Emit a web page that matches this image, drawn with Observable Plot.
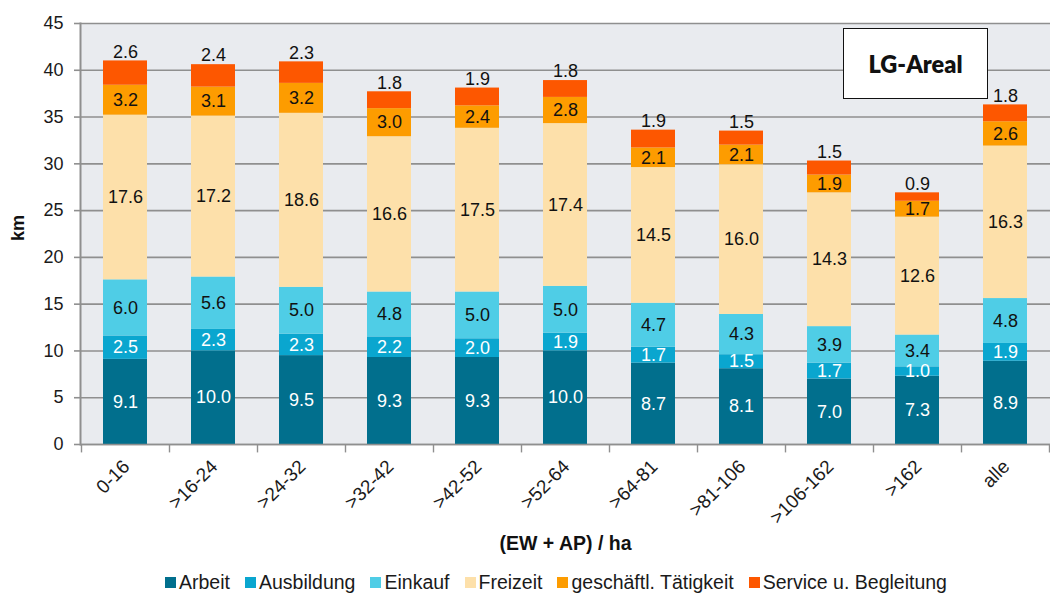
<!DOCTYPE html>
<html>
<head>
<meta charset="utf-8">
<script src="https://cdn.jsdelivr.net/npm/d3@7"></script>
<script src="https://cdn.jsdelivr.net/npm/@observablehq/plot@0.6"></script>
<style>
  body { margin: 0; background: #ffffff; font-family: "Liberation Sans", Arial, sans-serif; }
  #wrap { position: relative; width: 1050px; height: 593px; overflow: hidden; }
  #box { position: absolute; left: 843px; top: 28px; width: 143px; height: 69px; background: #fff;
         border: 1.5px solid #111; display: flex; align-items: center; justify-content: center;
         font-family: Lato, "Open Sans", sans-serif; font-weight: 800; font-size: 23.5px; color: #111; }
  #legend { position: absolute; left: 165px; top: 570px; height: 24px; display: flex; align-items: center; font-size: 19.5px; color: #1a1a1a; white-space: nowrap; }
  #legend .it { display: flex; align-items: center; margin-right: 15px; }
  #legend .sw { width: 11px; height: 11px; margin-right: 3px; display: inline-block; }
</style>
</head>
<body>
<div id="wrap">
  <div id="chart"></div>
  <div id="box">LG-Areal</div>
  <div id="legend"></div>
</div>
<script>
const categories = ["0-16", ">16-24", ">24-32", ">32-42", ">42-52", ">52-64", ">64-81", ">81-106", ">106-162", ">162", "alle"];
const seriesNames = ["Arbeit", "Ausbildung", "Einkauf", "Freizeit", "geschäftl. Tätigkeit", "Service u. Begleitung"];
const arbeit     = [9.1, 10.0, 9.5, 9.3, 9.3, 10.0, 8.7, 8.1, 7.0, 7.3, 8.9];
const ausbildung = [2.5, 2.3, 2.3, 2.2, 2.0, 1.9, 1.7, 1.5, 1.7, 1.0, 1.9];
const einkauf    = [6.0, 5.6, 5.0, 4.8, 5.0, 5.0, 4.7, 4.3, 3.9, 3.4, 4.8];
const freizeit   = [17.6, 17.2, 18.6, 16.6, 17.5, 17.4, 14.5, 16.0, 14.3, 12.6, 16.3];
const geschaeft  = [3.2, 3.1, 3.2, 3.0, 2.4, 2.8, 2.1, 2.1, 1.9, 1.7, 2.6];
const service    = [2.6, 2.4, 2.3, 1.8, 1.9, 1.8, 1.9, 1.5, 1.5, 0.9, 1.8];
const yTicks = [0, 5, 10, 15, 20, 25, 30, 35, 40, 45];
const colors = ["#016f8d", "#0aa6cf", "#4fcde6", "#fde0aa", "#fd9c00", "#fd5700"];
const labelColors = ["#ffffff", "#ffffff", "#111111", "#111111", "#111111", "#111111"];

const seriesValues = [arbeit, ausbildung, einkauf, freizeit, geschaeft, service];
const data = [];
seriesNames.forEach((s, si) => categories.forEach((c, ci) => data.push({cat: c, series: s, value: seriesValues[si][ci]})));
const inner = data.filter(d => d.series !== "Service u. Begleitung");

const stackOpts = {x: "cat", y: "value", z: "series", order: seriesNames};

const chart = Plot.plot({
  width: 1050,
  height: 560,
  marginLeft: 80,
  marginRight: 0,
  marginTop: 23,
  marginBottom: 116,
  style: {fontFamily: "'Liberation Sans', Arial, sans-serif", background: "transparent", color: "#222"},
  x: {domain: categories, paddingInner: 0.5, paddingOuter: 0.25, label: null},
  y: {domain: [0, 45], label: null},
  color: {domain: seriesNames, range: colors},
  marks: [
    Plot.frame({fill: "#e9ebef", stroke: null}),
    Plot.gridY(yTicks, {stroke: "#8f8f8f", strokeOpacity: 1, strokeWidth: 1.6}),
    Plot.axisY(yTicks, {tickSize: 6, tickPadding: 11, fontSize: 18, stroke: "#8f8f8f", strokeWidth: 1.6, label: null, fill: "#1a1a1a"}),
    Plot.frame({anchor: "left", stroke: "#8f8f8f", strokeWidth: 2}),
    Plot.barY(data, Plot.stackY({...stackOpts, fill: d => d.series})),
    Plot.ruleY([0], {stroke: "#8f8f8f", strokeWidth: 1.6}),
    Plot.ruleX(categories, {x: d => d, y1: 0, y2: -0.9, dx: -44, stroke: "#8f8f8f", strokeWidth: 1.4}),
    Plot.ruleX(categories.slice(-1), {x: d => d, y1: 0, y2: -0.9, dx: 44, stroke: "#8f8f8f", strokeWidth: 1.4}),
    Plot.text(inner, Plot.stackY({...stackOpts, text: d => d.value.toFixed(1),
      fill: d => labelColors[seriesNames.indexOf(d.series)], fontSize: 18})),
    Plot.text(data, Plot.stackY2({...stackOpts, text: d => d.series === "Service u. Begleitung" ? d.value.toFixed(1) : null,
      fill: "#111", fontSize: 18, dy: -9})),
    Plot.axisX({tickRotate: -45, tickSize: 0, tickPadding: 19, fontSize: 19, dx: 1, label: null, fill: "#1a1a1a"}),
    Plot.text(["km"], {frameAnchor: "left", textAnchor: "middle", lineAnchor: "middle", dx: -62, dy: -6, rotate: -90, fontSize: 18, fontWeight: "bold", fill: "#111"}),
    Plot.text(["(EW + AP) / ha"], {frameAnchor: "bottom", lineAnchor: "middle", dy: 99, fontSize: 19.5, fontWeight: "bold", fill: "#111"})
  ]
});
document.getElementById("chart").appendChild(chart);

const legend = document.getElementById("legend");
seriesNames.forEach((s, i) => {
  const it = document.createElement("div");
  it.className = "it";
  const sw = document.createElement("span");
  sw.className = "sw";
  sw.style.background = colors[i];
  it.appendChild(sw);
  it.appendChild(document.createTextNode(s));
  legend.appendChild(it);
});
</script>
</body>
</html>
